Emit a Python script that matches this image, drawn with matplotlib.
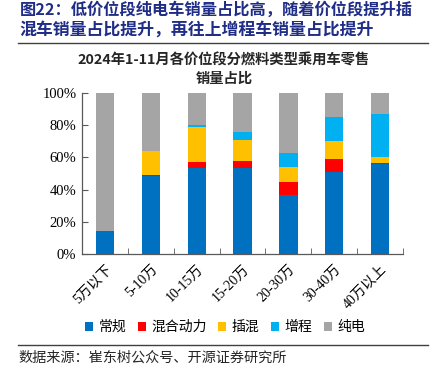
import matplotlib
matplotlib.use("Agg")
import matplotlib.pyplot as plt
from matplotlib.lines import Line2D
from matplotlib.patches import Patch
import numpy as np

plt.rcParams['font.family'] = ['Noto Sans CJK SC', 'DejaVu Sans']

categories = ['5万以下', '5-10万', '10-15万', '15-20万', '20-30万', '30-40万', '40万以上']
series_names = ['常规', '混合动力', '插混', '增程', '纯电']
conventional = [14.6, 48.3, 53.7, 53.7, 36.9, 51.0, 55.6]
hybrid = [0.0, 0.8, 3.2, 4.0, 7.7, 8.1, 1.0]
phev = [0.0, 14.9, 22.2, 13.1, 9.3, 11.1, 3.4]
erev = [0.0, 0.2, 0.9, 5.2, 9.0, 15.0, 26.9]
bev = [85.4, 35.8, 20.0, 24.0, 37.1, 14.8, 13.1]
colors = ['#0070C0', '#FF0000', '#FFC000', '#00B0F0', '#A5A5A5']
yticks = [0, 20, 40, 60, 80, 100]

fig = plt.figure(figsize=(4.41, 3.76), dpi=100)
ax = fig.add_axes([0.186, 0.324, 0.728, 0.429])

x = np.arange(len(categories))
bottom = np.zeros(len(categories))
for vals, c in zip([conventional, hybrid, phev, erev, bev], colors):
    ax.bar(x, vals, width=0.4, bottom=bottom, color=c, edgecolor='none')
    bottom += np.array(vals)

ax.set_xlim(-0.5, len(categories) - 0.5)
ax.set_ylim(0, 100)
ax.set_yticks(yticks)
ax.set_yticklabels([f'{v}%' for v in yticks], family=['Liberation Serif'], fontsize=10.5)
ax.set_xticks(x)
ax.set_xticklabels(categories, rotation=45, ha='right', va='top', rotation_mode='anchor',
                   family=['Liberation Serif', 'Noto Sans CJK SC'], fontsize=10)
ax.tick_params(axis='x', length=0, pad=6)
ax.set_xticks(np.arange(-0.5, len(categories)), minor=True)
ax.tick_params(axis='x', which='minor', direction='in', length=4, color='#595959')
ax.tick_params(axis='y', direction='in', length=4, color='#595959', pad=4)
for s in ['top', 'right']:
    ax.spines[s].set_visible(False)
for s in ['left', 'bottom']:
    ax.spines[s].set_color('#595959')
    ax.spines[s].set_linewidth(0.9)

# Title lines
fig.text(20/441, 1 - 9/376, '图22：低价位段纯电车销量占比高，随着价位段提升插',
         color='#1F2D86', fontsize=11.7, fontweight='bold', va='center', ha='left')
fig.text(19/441, 1 - 30/376, '混车销量占比提升，再往上增程车销量占比提升',
         color='#1F2D86', fontsize=12.2, fontweight='bold', va='center', ha='left')
fig.add_artist(Line2D([18/441, 428/441], [1 - 42.5/376, 1 - 42.5/376], color='#404040', lw=1.0))

fig.text(224/441, 1 - 60/376, '2024年1-11月各价位段分燃料类型乘用车零售',
         fontsize=10.3, fontweight='bold', ha='center', va='center', color='#262626')
fig.text(224/441, 1 - 79/376, '销量占比',
         fontsize=10.3, fontweight='bold', ha='center', va='center', color='#262626')

handles = [Patch(facecolor=c, edgecolor='none') for c in colors]
fig.legend(handles, series_names, loc='center', bbox_to_anchor=(225/441, 1 - 327/376),
           ncol=5, frameon=False, fontsize=10, handlelength=0.6, handleheight=0.6,
           handletextpad=0.4, columnspacing=0.8)

fig.add_artist(Line2D([18/441, 428/441], [1 - 345/376, 1 - 345/376], color='#404040', lw=1.0))
fig.text(18/441, 1 - 358/376, '数据来源：崔东树公众号、开源证券研究所',
         fontsize=10.2, ha='left', va='center', color='#262626')

fig.savefig('out.png', dpi=100)
